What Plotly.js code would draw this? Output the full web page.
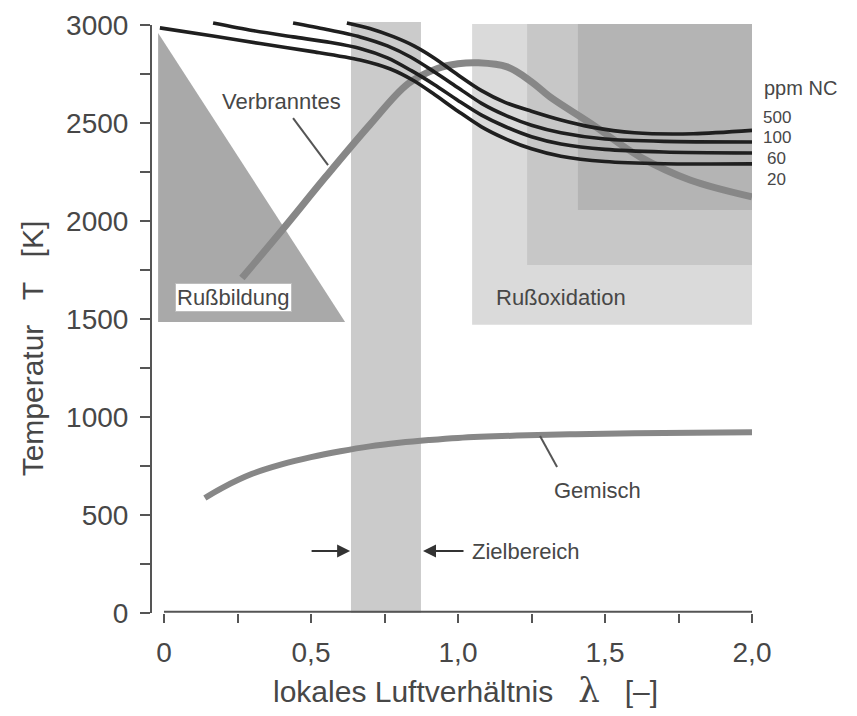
<!DOCTYPE html>
<html>
<head>
<meta charset="utf-8">
<script src="https://cdn.plot.ly/plotly-3.0.1.min.js"></script>
<style>html,body{margin:0;padding:0;background:#fff;}#chart{width:857px;height:716px;}</style>
</head>
<body>
<div id="chart"></div>
<script>
// ---- data (lambda, temperature K) ----
const ppmLevels = ["500", "100", "60", "20"];
const nox500_x = [0.622, 0.700, 0.780, 0.850, 0.920, 1.000, 1.080, 1.160, 1.250, 1.350, 1.450, 1.600, 1.800, 2.000];
const nox500_T = [3010, 2982, 2940, 2893, 2830, 2745, 2665, 2605, 2560, 2515, 2480, 2450, 2445, 2462];
const nox100_x = [0.439, 0.550, 0.667, 0.760, 0.840, 0.920, 1.000, 1.080, 1.160, 1.250, 1.350, 1.500, 1.700, 2.000];
const nox100_T = [3010, 2978, 2939, 2893, 2835, 2760, 2680, 2600, 2540, 2488, 2450, 2418, 2406, 2403];
const nox60_x  = [0.167, 0.300, 0.439, 0.567, 0.667, 0.760, 0.840, 0.920, 1.000, 1.080, 1.160, 1.250, 1.350, 1.500, 1.700, 2.000];
const nox60_T  = [3010, 2972, 2939, 2910, 2880, 2832, 2768, 2695, 2615, 2540, 2482, 2430, 2393, 2365, 2352, 2347];
const nox20_x  = [-0.014, 0.167, 0.327, 0.500, 0.667, 0.770, 0.850, 0.920, 1.000, 1.080, 1.160, 1.250, 1.350, 1.500, 1.700, 2.000];
const nox20_T  = [2985, 2944, 2905, 2865, 2821, 2775, 2715, 2645, 2560, 2480, 2420, 2368, 2330, 2303, 2292, 2291];

const verbrannt_x = [0.265, 0.400, 0.550, 0.700, 0.830, 0.930, 1.000, 1.070, 1.167, 1.250, 1.313, 1.449, 1.619, 1.789, 2.000];
const verbrannt_T = [1709, 1950, 2225, 2490, 2700, 2778, 2802, 2807, 2786, 2710, 2633, 2500, 2327, 2209, 2123];

const gemisch_x = [0.139, 0.200, 0.300, 0.400, 0.500, 0.600, 0.700, 0.800, 0.900, 1.000, 1.200, 1.400, 1.600, 1.800, 2.000];
const gemisch_T = [587, 640, 710, 758, 795, 825, 850, 868, 882, 893, 905, 912, 917, 920, 922];

// regions
const zielbereich_x = [0.636, 0.874];
const zielbereich_T = [0, 3015];
const russbildung_x = [-0.020, -0.020, 0.616];
const russbildung_T = [2959, 1485, 1485];
const oxidation_x0 = [1.048, 1.235, 1.408];
const oxidation_x1 = [2.000, 2.000, 2.000];
const oxidation_T0 = [1470, 1775, 2056];
const oxidation_T1 = [3005, 3005, 3005];

const xTickVals = [0, 0.5, 1.0, 1.5, 2.0];
const xTickText = ["0", "0,5", "1,0", "1,5", "2,0"];
const yTickVals = [0, 500, 1000, 1500, 2000, 2500, 3000];
const yTickText = ["0", "500", "1000", "1500", "2000", "2500", "3000"];

// ---- styling ----
const txt = "#474747";
const F = "Liberation Sans, Arial, Helvetica, sans-serif";
const blackLine = {color: "#1f1f1f", width: 3.6, shape: "spline", smoothing: 0.8};
const grayLine = "#878787";
const oxidColors = ["#dadada", "#c7c7c7", "#b4b4b4"];

const traces = [
  {x: gemisch_x, y: gemisch_T, mode: "lines", line: {color: grayLine, width: 6, shape: "spline"}, hoverinfo: "skip"},
  {x: verbrannt_x, y: verbrannt_T, mode: "lines", line: {color: grayLine, width: 7, shape: "spline"}, hoverinfo: "skip"},
  {x: nox20_x, y: nox20_T, mode: "lines", line: blackLine, name: ppmLevels[3]},
  {x: nox60_x, y: nox60_T, mode: "lines", line: blackLine, name: ppmLevels[2]},
  {x: nox100_x, y: nox100_T, mode: "lines", line: blackLine, name: ppmLevels[1]},
  {x: nox500_x, y: nox500_T, mode: "lines", line: blackLine, name: ppmLevels[0]}
];

const shapes = [];
for (let i = 0; i < oxidation_x0.length; i++) {
  shapes.push({type: "rect", xref: "x", yref: "y", layer: "below",
    x0: oxidation_x0[i], x1: oxidation_x1[i], y0: oxidation_T0[i], y1: oxidation_T1[i],
    fillcolor: oxidColors[i], line: {width: 0}});
}
shapes.push({type: "path", xref: "x", yref: "y", layer: "below",
  path: "M" + russbildung_x.map((v, i) => v + "," + russbildung_T[i]).join(" L") + " Z",
  fillcolor: "#a9a9a9", line: {width: 0}});
shapes.push({type: "rect", xref: "x", yref: "y", layer: "below",
  x0: zielbereich_x[0], x1: zielbereich_x[1], y0: zielbereich_T[0], y1: zielbereich_T[1],
  fillcolor: "#cbcbcb", line: {width: 0}});
// axis lines (separated like the original)
shapes.push({type: "line", xref: "paper", yref: "y", x0: 0, x1: 0, y0: 0, y1: 3000, line: {color: "#555", width: 2}});
shapes.push({type: "line", xref: "x", yref: "paper", x0: 0, x1: 2.0, y0: 0.002, y1: 0.002, line: {color: "#555", width: 2}});
// leader lines
shapes.push({type: "line", xref: "x", yref: "y", x0: 0.439, y0: 2525, x1: 0.558, y1: 2285, line: {color: "#555", width: 2}});
shapes.push({type: "line", xref: "x", yref: "y", x0: 1.279, y0: 903, x1: 1.337, y1: 745, line: {color: "#555", width: 2}});

const lab = (text, x, y, opts) => Object.assign({text: text, x: x, y: y, xref: "x", yref: "y", showarrow: false,
  font: {family: F, size: 22, color: txt}}, opts || {});
const side = (text, xp, y, size, anchor) => ({text: text, x: xp, y: y, xref: "paper", yref: "y", showarrow: false,
  xanchor: anchor, yanchor: "middle", font: {family: F, size: size, color: txt}});

const annotations = [
  lab("Verbranntes", 0.401, 2607),
  lab("Rußbildung", 0.238, 1612, {bgcolor: "#ffffff", bordercolor: "#bdbdbd", borderwidth: 1, borderpad: 1}),
  lab("Rußoxidation", 1.352, 1612),
  lab("Gemisch", 1.476, 627),
  lab("Zielbereich", 1.041, 316, {xanchor: "left"}),
  side("ppm NC", 1.0166, 2678, 20, "left"),
  side(ppmLevels[0], 1.068, 2530, 17, "right"),
  side(ppmLevels[1], 1.068, 2428, 17, "right"),
  side(ppmLevels[2], 1.060, 2321, 17, "right"),
  side(ppmLevels[3], 1.060, 2209, 17, "right"),
  {x: 0.633, y: 316, xref: "x", yref: "y", text: "", showarrow: true, ax: -40, ay: 0,
    arrowhead: 2, arrowsize: 1.3, arrowwidth: 2, arrowcolor: "#333"},
  {x: 0.881, y: 316, xref: "x", yref: "y", text: "", showarrow: true, ax: 42, ay: 0,
    arrowhead: 2, arrowsize: 1.3, arrowwidth: 2, arrowcolor: "#333"},
  {text: "Temperatur   T   [K]", xref: "paper", yref: "y", x: -0.198, y: 1350, textangle: -90,
    xanchor: "center", yanchor: "middle",
    showarrow: false, font: {family: F, size: 30, color: txt}},
  {text: "lokales Luftverhältnis   <span style='font-family:DejaVu Serif;font-size:34px'>λ</span>   [–]",
    xref: "x", yref: "paper", x: 1.027, y: -0.130, xanchor: "center", yanchor: "middle",
    showarrow: false, font: {family: F, size: 30, color: txt}}
];

const layout = {
  width: 857, height: 716,
  margin: {l: 151, r: 105, t: 19, b: 103, pad: 0},
  paper_bgcolor: "#ffffff", plot_bgcolor: "#ffffff",
  showlegend: false,
  xaxis: {range: [-0.0442, 2.0], showgrid: false, zeroline: false, showline: false,
    tickmode: "array", tickvals: xTickVals, ticktext: xTickText,
    ticks: "outside", ticklen: 9, tickwidth: 2, tickcolor: "#555",
    minor: {tickmode: "array", tickvals: [0.25, 0.75, 1.25, 1.75], ticks: "outside", ticklen: 9, tickwidth: 2, tickcolor: "#555"},
    tickfont: {family: F, size: 28, color: txt}, ticklabelstandoff: 5},
  yaxis: {range: [0, 3030.3], showgrid: false, zeroline: false, showline: false,
    tickmode: "array", tickvals: yTickVals, ticktext: yTickText,
    ticks: "outside", ticklen: 10, tickwidth: 2, tickcolor: "#555",
    minor: {tickmode: "array", tickvals: [250, 750, 1250, 1750, 2250, 2750], ticks: "outside", ticklen: 10, tickwidth: 2, tickcolor: "#555"},
    tickfont: {family: F, size: 28, color: txt}, ticklabelstandoff: 6},
  shapes: shapes,
  annotations: annotations
};

Plotly.newPlot("chart", traces, layout, {staticPlot: true, displayModeBar: false});
</script>
</body>
</html>
